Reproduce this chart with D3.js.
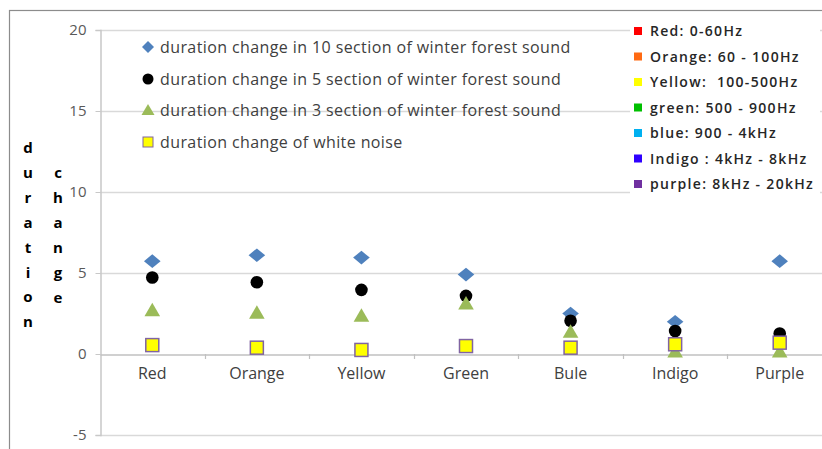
<!DOCTYPE html>
<html><head><meta charset="utf-8">
<script src="https://cdn.jsdelivr.net/npm/d3@7"></script>
<style>body{margin:0;background:#fff;} svg{display:block;}</style>
</head><body>
<svg id="c" width="822" height="449"></svg>
<script>
const categories = ["Red","Orange","Yellow","Green","Bule","Indigo","Purple"];
const seriesNames = [
  "duration change in 10 section of winter forest sound",
  "duration change in 5 section of winter forest sound",
  "duration change in 3 section of winter forest sound",
  "duration change of white noise"
];
const section10 = [5.73, 6.1, 5.95, 4.9, 2.5, 1.99, 5.73];
const section5  = [4.72, 4.43, 3.96, 3.59, 2.05, 1.42, 1.27];
const section3  = [2.7, 2.55, 2.36, 3.12, 1.37, 0.15, 0.15];
const whiteNoise = [0.55, 0.39, 0.25, 0.49, 0.39, 0.6, 0.7];
const yTicks = [20, 15, 10, 5, 0, -5];
const bandLabels = ["Red: 0-60Hz","Orange: 60 - 100Hz","Yellow:  100-500Hz","green: 500 - 900Hz","blue: 900 - 4kHz","Indigo : 4kHz - 8kHz","purple: 8kHz - 20kHz"];
const bandColors = ["#FF0000","#FF6A13","#FFFF00","#00C000","#00B0F0","#2E00FF","#7030A0"];
const axisTitle1 = "duration";
const axisTitle2 = "change";

const svg = d3.select("#c");
const font = "'Open Sans', sans-serif";
const x0 = 100, x1 = 832;
const y = d3.scaleLinear().domain([-5, 20]).range([435, 30]);
const x = d3.scaleBand().domain(categories).range([x0, x1]);

// outer border
svg.append("rect").attr("x", 9.5).attr("y", 10.5).attr("width", 830).attr("height", 460)
  .attr("fill", "none").attr("stroke", "#8c8c8c").attr("stroke-width", 1.2);

// gridlines
svg.append("g").selectAll("line").data(yTicks.filter(d => d !== 0)).join("line")
  .attr("x1", x0).attr("x2", x1).attr("y1", d => Math.round(y(d)) + 0.5).attr("y2", d => Math.round(y(d)) + 0.5)
  .attr("stroke", "#d9d9d9").attr("stroke-width", 1.5);

// y axis
const yAxis = d3.axisLeft(y).tickValues(yTicks).tickSize(5).tickFormat(d => String(d));
const gy = svg.append("g").attr("transform", `translate(${x0 + 0.5},0)`).call(yAxis);
gy.select(".domain").attr("stroke", "#c8c8c8").attr("stroke-width", 1.5);
gy.selectAll(".tick line").attr("stroke", "#c8c8c8");
gy.selectAll(".tick text").attr("font-family", font).attr("font-size", 15).attr("fill", "#595959").attr("x", -14);

// x axis at zero
const xAxis = d3.axisBottom(x).tickSize(0).tickPadding(13);
const gx = svg.append("g").attr("transform", `translate(0,${Math.round(y(0)) + 0.5})`).call(xAxis);
gx.select(".domain").attr("stroke", "#c0c0c0").attr("stroke-width", 1.5);
gx.selectAll(".tick text").attr("font-family", font).attr("font-size", 16).attr("fill", "#404040");
// boundary ticks
svg.append("g").selectAll("line").data(categories.slice(1)).join("line")
  .attr("x1", d => Math.round(x(d)) + 0.5).attr("x2", d => Math.round(x(d)) + 0.5)
  .attr("y1", y(0)).attr("y2", y(0) + 5).attr("stroke", "#c0c0c0").attr("stroke-width", 1.2);

// axis title letters
const tl = svg.append("g").attr("font-family", font).attr("font-weight", "bold").attr("font-size", 15).attr("fill", "#000");
axisTitle1.split("").forEach((ch, i) => tl.append("text").attr("x", 28).attr("y", 153 + i * 24.9).attr("text-anchor", "middle").text(ch));
axisTitle2.split("").forEach((ch, i) => tl.append("text").attr("x", 58).attr("y", 178 + i * 24.9).attr("text-anchor", "middle").text(ch));

// series
const cx = c => x(c) + x.bandwidth() / 2;
svg.append("g").selectAll("path").data(section10).join("path")
  .attr("d", "M0,-6.8L8.3,0L0,6.8L-8.3,0Z")
  .attr("transform", (d, i) => `translate(${cx(categories[i])},${y(d)})`)
  .attr("fill", "#4F81BD");
svg.append("g").selectAll("circle").data(section5).join("circle")
  .attr("cx", (d, i) => cx(categories[i])).attr("cy", d => y(d)).attr("r", 6.3).attr("fill", "#000");
svg.append("g").selectAll("path").data(section3).join("path")
  .attr("d", "M0,-7.5L7.8,6L-7.8,6Z")
  .attr("transform", (d, i) => `translate(${cx(categories[i])},${y(d)})`)
  .attr("fill", "#9BBB59");
svg.append("g").selectAll("rect").data(whiteNoise).join("rect")
  .attr("x", (d, i) => cx(categories[i]) - 6.5).attr("y", d => y(d) - 6.5)
  .attr("width", 13).attr("height", 13).attr("fill", "#FFFF00").attr("stroke", "#8064A2").attr("stroke-width", 1.5);

// series legend
const lg = svg.append("g").attr("font-family", font).attr("font-size", 16).attr("letter-spacing", 0.4).attr("fill", "#404040");
const ly = [47, 79, 110, 142];
seriesNames.forEach((n, i) => {
  lg.append("text").attr("x", 160).attr("y", ly[i] + 5.5).text(n);
});
lg.append("path").attr("d", "M0,-6L6,0L0,6L-6,0Z").attr("transform", `translate(148,${ly[0]})`).attr("fill", "#4F81BD");
lg.append("circle").attr("cx", 148).attr("cy", ly[1]).attr("r", 5.5).attr("fill", "#000");
lg.append("path").attr("d", "M0,-6L6.5,5L-6.5,5Z").attr("transform", `translate(148,${ly[2]})`).attr("fill", "#9BBB59");
lg.append("rect").attr("x", 143).attr("y", ly[3] - 5).attr("width", 10).attr("height", 10).attr("fill", "#FFFF00").attr("stroke", "#8064A2");

// band legend
const bg = svg.append("g").attr("font-family", font).attr("font-size", 14).attr("font-weight", 600).attr("letter-spacing", 1.3).attr("fill", "#262626");
bg.append("rect").attr("x", 630).attr("y", 20).attr("width", 190).attr("height", 178).attr("fill", "#fff");
const by = d3.range(bandLabels.length).map(i => 31 + i * 25.5);
bandLabels.forEach((t, i) => {
  bg.append("rect").attr("x", 634).attr("y", by[i] - 4).attr("width", 8).attr("height", 8).attr("fill", bandColors[i]);
  bg.append("text").attr("x", 650).attr("y", by[i] + 5).attr("xml:space", "preserve").style("white-space", "pre").text(t);
});
</script>
</body></html>
